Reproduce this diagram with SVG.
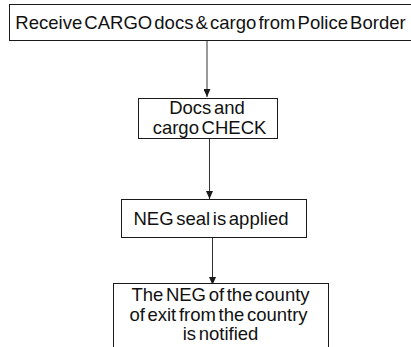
<svg xmlns="http://www.w3.org/2000/svg" width="411" height="347" viewBox="0 0 411 347">
  <style>
    .box { fill: #ffffff; stroke: #1a1a1a; stroke-width: 1; }
    .lbl { font-family: "Liberation Sans", Arial, sans-serif; font-size: 18.5px; fill: #111111; text-anchor: middle; word-spacing: -2.5px; }
    .tight { word-spacing: -3px; }
    .flow { stroke: #333333; stroke-width: 1; fill: none; }
  </style>
  <defs>
    <marker id="tip" markerUnits="userSpaceOnUse" markerWidth="7" markerHeight="8" viewBox="0 0 7 8" refX="3.5" refY="8" orient="0">
      <path d="M0,0 L7,0 L3.5,8 Z" fill="#1a1a1a"/>
    </marker>
  </defs>
  <rect width="411" height="347" fill="#ffffff"/>

  <g id="connectors">
    <line class="flow" x1="207" y1="41" x2="207" y2="97" marker-end="url(#tip)"/>
    <line class="flow" x1="209.5" y1="139" x2="209.5" y2="199" marker-end="url(#tip)"/>
    <line class="flow" x1="212.5" y1="238" x2="212.5" y2="285" marker-end="url(#tip)"/>
  </g>

  <g id="receive">
    <rect class="box" x="9.5" y="4.5" width="410" height="36"/>
    <text class="lbl tight" x="210.5" y="29">Receive CARGO docs &amp; cargo from Police Border</text>
  </g>

  <g id="check">
    <rect class="box" x="138.5" y="98.5" width="139" height="40"/>
    <text class="lbl" x="207" y="113.5">Docs and</text>
    <text class="lbl" x="209.5" y="134">cargo CHECK</text>
  </g>

  <g id="seal">
    <rect class="box" x="121.5" y="199.5" width="185" height="38"/>
    <text class="lbl" x="211" y="225">NEG seal is applied</text>
  </g>

  <g id="notify">
    <rect class="box" x="113.5" y="283.5" width="215" height="80"/>
    <text class="lbl" x="220.5" y="300.5">The NEG of the county</text>
    <text class="lbl" x="218.5" y="320.5">of exit from the country</text>
    <text class="lbl" x="220.5" y="340">is notified</text>
  </g>
</svg>
